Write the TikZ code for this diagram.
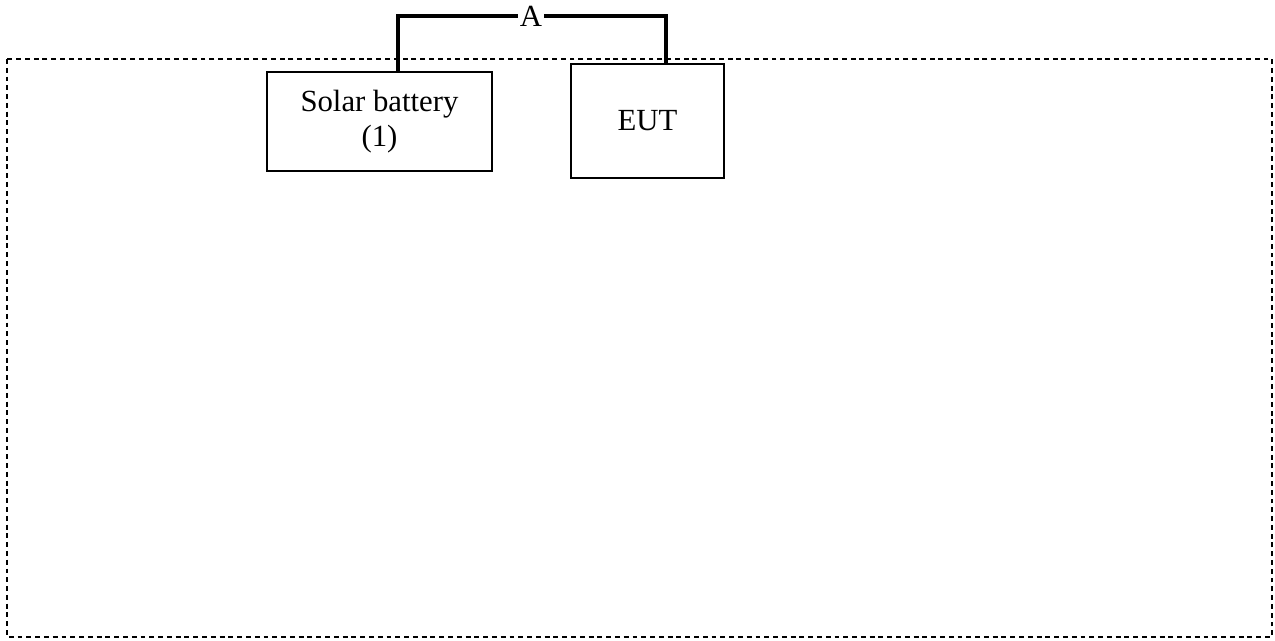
\documentclass[tikz,border=0pt]{standalone}
\usepackage{fontspec}
\setmainfont{Liberation Serif}
\usetikzlibrary{positioning, calc}
\tikzset{
  unitbox/.style={draw, line width=0.6pt, align=center, font=\fontsize{17.5}{20}\selectfont},
  cable/.style={line width=1.8pt},
  testarea/.style={line width=0.9pt, dash pattern=on 2.8pt off 2.2pt}
}

\begin{document}
\begin{tikzpicture}[x=0.02cm, y=-0.02cm]
  \useasboundingbox (0,0) rectangle (1275,641);
  % test area
  \draw[testarea] (7,59) rectangle (1272,637);
  % units
  \node[unitbox, minimum width=4.5cm, minimum height=1.98cm] (solar) at (379.5,121.5) {Solar battery\\(1)};
  \node[unitbox, minimum width=3.06cm, minimum height=2.28cm] (eut) at (647.5,121) {EUT};
  % cable A
  \coordinate (solartop) at (398,72);
  \coordinate (euttop) at (666,64);
  \node[inner sep=1pt, font=\fontsize{17.5}{20}\selectfont] (cableA) at (531,16) {A};
  \draw[cable] (solartop) |- (cableA.west);
  \draw[cable] (cableA.east) -| (euttop);
\end{tikzpicture}
\end{document}
